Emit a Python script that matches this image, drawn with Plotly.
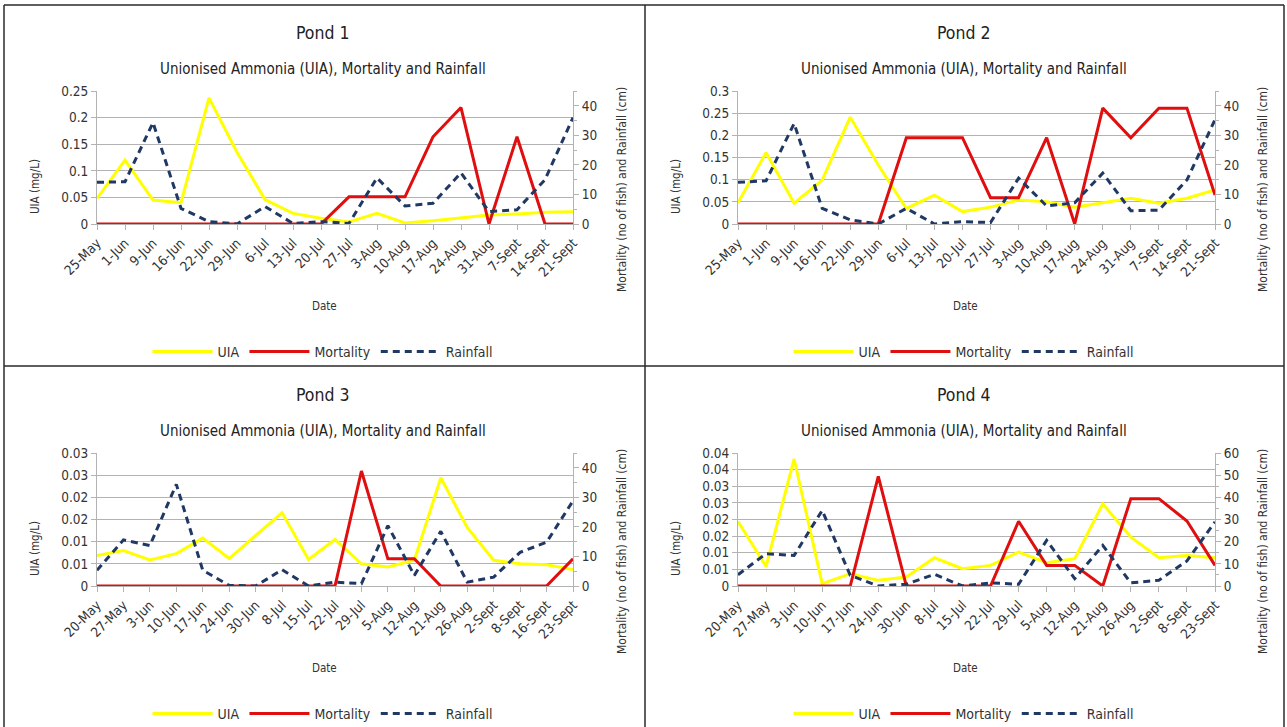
import plotly.graph_objects as go

# ---------------- data ----------------
dates_p12 = ["25-May", "1-Jun", "9-Jun", "16-Jun", "22-Jun", "29-Jun", "6-Jul", "13-Jul", "20-Jul",
             "27-Jul", "3-Aug", "10-Aug", "17-Aug", "24-Aug", "31-Aug", "7-Sept", "14-Sept", "21-Sept"]
dates_p3 = ["20-May", "27-May", "3-Jun", "10-Jun", "17-Jun", "24-Jun", "30-Jun", "8-Jul", "15-Jul",
            "22-Jul", "29-Jul", "5-Aug", "12-Aug", "21-Aug", "26-Aug", "2-Sept", "8-Sept", "16-Sept", "23-Sept"]
dates_p4 = ["20-May", "27-May", "3-Jun", "10-Jun", "17-Jun", "24-Jun", "30-Jun", "8-Jul", "15-Jul",
            "22-Jul", "29-Jul", "5-Aug", "12-Aug", "21-Aug", "26-Aug", "2-Sept", "8-Sept", "23-Sept"]

uia_p1 = [0.048, 0.120, 0.045, 0.040, 0.237, 0.135, 0.046, 0.020, 0.011, 0.004, 0.020, 0.002,
          0.006, 0.012, 0.017, 0.019, 0.022, 0.023]
mort_p1 = [0, 0, 0, 0, 0, 0, 0, 0, 0, 9.2, 9.2, 9.2, 29.5, 39.4, 0, 29.5, 0, 0]
rain_p1 = [14.1, 14.3, 34.3, 5.3, 0.8, 0.0, 5.9, 0.2, 0.8, 0.2, 15.6, 6.1, 7.0, 17.3, 4.2, 4.8, 15.0, 36.0]

uia_p2 = [0.048, 0.161, 0.047, 0.099, 0.241, 0.133, 0.035, 0.065, 0.028, 0.038, 0.054, 0.050,
          0.038, 0.048, 0.058, 0.047, 0.058, 0.077]
mort_p2 = [0, 0, 0, 0, 0, 0, 29.2, 29.2, 29.2, 8.9, 8.9, 29.2, 0, 39.2, 29.2, 39.2, 39.2, 9.8]
rain_p2 = [14.1, 14.6, 34.0, 5.3, 1.4, 0.0, 5.3, 0.0, 0.8, 0.5, 15.5, 6.1, 7.2, 17.2, 4.5, 4.7, 14.9, 35.3]

uia_p3 = [0.0069, 0.0080, 0.0059, 0.0073, 0.0108, 0.0062, 0.0114, 0.0165, 0.0060, 0.0105,
          0.0050, 0.0043, 0.0058, 0.0244, 0.0132, 0.0058, 0.0050, 0.0048, 0.0037]
mort_p3 = [0, 0, 0, 0, 0, 0, 0, 0, 0, 0, 38.9, 9.2, 9.2, 0, 0, 0, 0, 0, 9.2]
rain_p3 = [5.3, 15.6, 13.7, 34.4, 5.3, 0.2, 0.0, 5.5, 0.0, 1.3, 0.8, 20.4, 3.6, 18.5, 1.3, 3.0,
           11.4, 14.8, 28.8]

uia_p4 = [0.0194, 0.0059, 0.0382, 0.0007, 0.0037, 0.0017, 0.0027, 0.0085, 0.0052, 0.0062,
          0.0102, 0.0070, 0.0082, 0.0247, 0.0147, 0.0085, 0.0092, 0.0085]
mort_p4 = [0, 0, 0, 0, 0, 49.5, 0, 0, 0, 0, 29.2, 9.3, 9.3, 0, 39.4, 39.4, 29.3, 9.3]
rain_p4 = [5.1, 14.6, 13.8, 34.1, 4.8, 0.0, 0.8, 5.3, 0.0, 1.4, 0.8, 20.6, 3.3, 18.3, 1.4, 2.6,
           11.3, 28.9]

pond_titles = ["Pond 1", "Pond 2", "Pond 3", "Pond 4"]
subtitle = "Unionised Ammonia (UIA), Mortality and Rainfall"
left_ticks = [
    ([0, 0.05, 0.1, 0.15, 0.2, 0.25], ["0", "0.05", "0.1", "0.15", "0.2", "0.25"]),
    ([0, 0.05, 0.1, 0.15, 0.2, 0.25, 0.3], ["0", "0.05", "0.1", "0.15", "0.2", "0.25", "0.3"]),
    ([0, 0.005, 0.01, 0.015, 0.02, 0.025, 0.03], ["0", "0.01", "0.01", "0.02", "0.02", "0.03", "0.03"]),
    ([0, 0.005, 0.01, 0.015, 0.02, 0.025, 0.03, 0.035, 0.04],
     ["0", "0.01", "0.01", "0.02", "0.02", "0.03", "0.03", "0.04", "0.04"]),
]
left_ranges = [[0, 0.25], [0, 0.3], [0, 0.03], [0, 0.04]]
right_ranges = [[0, 45], [0, 45], [0, 45], [0, 60]]

# ---------------- layout helpers ----------------
W, H = 1287, 727
FONT = "DejaVu Sans Condensed, Liberation Sans, Arial, sans-serif"
TXT = "#333333"
GRID = "#b3b3b3"
YEL, RED, BLUE = "#FFFF00", "#E00E0E", "#203864"


def px(x):
    return x / W


def py(y):
    return 1 - y / H


panels = [
    dict(dates=dates_p12, uia=uia_p1, mort=mort_p1, rain=rain_p1, x0=97, x1=573, y0=91, y1=224, ox=0, oy=0),
    dict(dates=dates_p12, uia=uia_p2, mort=mort_p2, rain=rain_p2, x0=738, x1=1215, y0=91, y1=224, ox=641, oy=0),
    dict(dates=dates_p3, uia=uia_p3, mort=mort_p3, rain=rain_p3, x0=97, x1=573, y0=453, y1=586, ox=0, oy=362),
    dict(dates=dates_p4, uia=uia_p4, mort=mort_p4, rain=rain_p4, x0=738, x1=1215, y0=453, y1=586, ox=641, oy=362),
]

fig = go.Figure()
layout = dict(
    width=W, height=H, margin=dict(l=0, r=0, t=0, b=0, autoexpand=False),
    paper_bgcolor="white", plot_bgcolor="white",
    font=dict(family=FONT, color=TXT, size=13),
    annotations=[], shapes=[],
)

for i, p in enumerate(panels):
    k = i + 1
    xa = "x" if k == 1 else f"x{k}"
    ya = "y" if k == 1 else f"y{2 * k - 1}"
    yb = f"y{2 * k}"
    leg = "legend" if k == 1 else f"legend{k}"
    fig.add_trace(go.Scatter(x=p["dates"], y=p["uia"], name="UIA", mode="lines",
                             line=dict(color=YEL, width=3), xaxis=xa, yaxis=ya, legend=leg))
    fig.add_trace(go.Scatter(x=p["dates"], y=p["mort"], name="Mortality", mode="lines",
                             line=dict(color=RED, width=3), xaxis=xa, yaxis=yb, legend=leg))
    fig.add_trace(go.Scatter(x=p["dates"], y=p["rain"], name="Rainfall", mode="lines",
                             line=dict(color=BLUE, width=3, dash="7px,5px"), xaxis=xa, yaxis=yb,
                             legend=leg))

    xd = [px(p["x0"]), px(p["x1"])]
    yd = [py(p["y1"]), py(p["y0"])]
    n = len(p["dates"])
    xkey = "xaxis" if k == 1 else f"xaxis{k}"
    yakey = "yaxis" if k == 1 else f"yaxis{2 * k - 1}"
    ybkey = f"yaxis{2 * k}"
    layout[xkey] = dict(domain=xd, anchor=ya, type="category", categoryorder="array",
                        categoryarray=p["dates"], range=[0, n - 1], showgrid=False,
                        showline=True, linecolor=GRID, linewidth=1, ticks="outside", ticklen=5,
                        tickcolor=GRID, tickangle=-45, tickfont=dict(size=13.5, family=FONT, color=TXT),
                        zeroline=False, fixedrange=True)
    tv, tt = left_ticks[i]
    layout[yakey] = dict(domain=yd, anchor=xa, range=left_ranges[i], tickmode="array",
                         tickvals=tv, ticktext=tt, showgrid=True, gridcolor=GRID, gridwidth=1,
                         showline=True, linecolor=GRID, ticks="outside", ticklen=5, tickcolor=GRID,
                         zeroline=False, tickfont=dict(size=13.5, family=FONT, color=TXT))
    layout[ybkey] = dict(overlaying=ya, anchor=xa, side="right", range=right_ranges[i],
                         tickmode="linear", tick0=0, dtick=10, showgrid=False, showline=True,
                         linecolor=GRID, ticks="outside", ticklen=5, tickcolor=GRID, zeroline=False,
                         minor=dict(ticks="outside", ticklen=3, tickcolor=GRID, tickmode="linear",
                                    tick0=0, dtick=5, showgrid=False),
                         tickfont=dict(size=13.5, family=FONT, color=TXT))

    cx = p["ox"] + 323
    oy = p["oy"]
    layout[leg] = dict(orientation="h", x=px(cx), xanchor="center", y=py(oy + 352), yanchor="middle",
                       bgcolor="rgba(0,0,0,0)", itemwidth=60, font=dict(size=14, family=FONT, color=TXT),
                       itemclick=False, itemdoubleclick=False)

    ann = layout["annotations"]
    ann.append(dict(text=pond_titles[i], x=px(cx), y=py(oy + 33), xref="paper", yref="paper",
                    showarrow=False, xanchor="center", yanchor="middle",
                    font=dict(size=17.5, family=FONT, color="#222222")))
    ann.append(dict(text=subtitle, x=px(cx), y=py(oy + 69), xref="paper", yref="paper",
                    showarrow=False, xanchor="center", yanchor="middle",
                    font=dict(size=15, family=FONT, color="#222222")))
    ann.append(dict(text="Date", x=px(cx + 1), y=py(oy + 306), xref="paper", yref="paper",
                    showarrow=False, xanchor="center", yanchor="middle",
                    font=dict(size=11.5, family=FONT, color=TXT)))
    ann.append(dict(text="UIA (mg/L)", x=px(p["ox"] + 35), y=py(oy + 187), xref="paper", yref="paper",
                    showarrow=False, xanchor="center", yanchor="middle", textangle=-90,
                    font=dict(size=11.5, family=FONT, color=TXT)))
    ann.append(dict(text="Mortality (no of fish) and Rainfall (cm)", x=px(p["ox"] + 622),
                    y=py(oy + 190), xref="paper", yref="paper",
                    showarrow=False, xanchor="center", yanchor="middle", textangle=-90,
                    font=dict(size=12, family=FONT, color=TXT)))

# panel borders
BORDER = dict(color="#2a2a2a", width=1.5)
shp = layout["shapes"]
for x in [4, 645, 1284]:
    shp.append(dict(type="line", xref="paper", yref="paper", x0=px(x), x1=px(x), y0=py(5), y1=py(727),
                    line=BORDER))
for y in [5, 366]:
    shp.append(dict(type="line", xref="paper", yref="paper", x0=px(4), x1=px(1284), y0=py(y), y1=py(y),
                    line=BORDER))

fig.update_layout(**layout)
fig.write_html("out.html")
